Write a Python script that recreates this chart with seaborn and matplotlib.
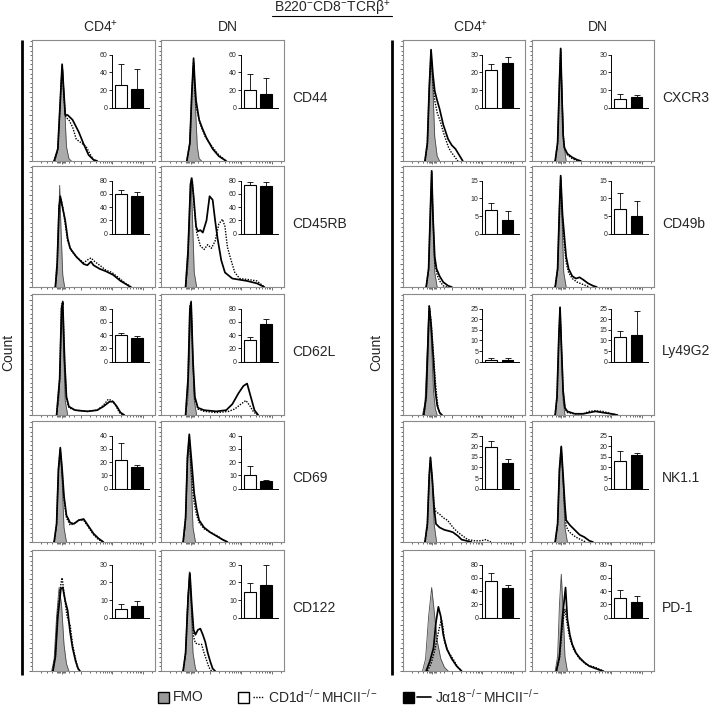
import matplotlib
matplotlib.use("Agg")
import matplotlib.pyplot as plt
from matplotlib.ticker import FixedLocator, NullFormatter
import numpy as np
import seaborn as sns

# ---- histogram traces: (position across axis, height as fraction of panel) ----
cd44_cd4_fmo = [(0.19, 0), (0.21, 0.08), (0.225, 0.35), (0.24, 0.72), (0.25, 0.76), (0.265, 0.45), (0.28, 0.12), (0.30, 0.02), (0.32, 0)]
cd44_cd4_cd1d = [(0.18, 0), (0.21, 0.10), (0.23, 0.50), (0.245, 0.78), (0.26, 0.52), (0.275, 0.36), (0.30, 0.34), (0.33, 0.28), (0.36, 0.18), (0.40, 0.15), (0.44, 0.12), (0.47, 0.06), (0.50, 0.01), (0.53, 0)]
cd44_cd4_ja18 = [(0.18, 0), (0.21, 0.10), (0.23, 0.50), (0.245, 0.80), (0.26, 0.55), (0.27, 0.38), (0.29, 0.38), (0.33, 0.34), (0.38, 0.24), (0.42, 0.14), (0.46, 0.05), (0.50, 0.01), (0.53, 0)]
cd44_dn_fmo = [(0.21, 0), (0.23, 0.10), (0.245, 0.40), (0.26, 0.78), (0.27, 0.80), (0.28, 0.45), (0.295, 0.12), (0.31, 0.02), (0.33, 0)]
cd44_dn_cd1d = [(0.21, 0), (0.235, 0.15), (0.25, 0.55), (0.265, 0.82), (0.275, 0.58), (0.285, 0.45), (0.32, 0.30), (0.36, 0.20), (0.40, 0.14), (0.43, 0.10), (0.47, 0.05), (0.53, 0)]
cd44_dn_ja18 = [(0.21, 0), (0.235, 0.15), (0.25, 0.55), (0.265, 0.85), (0.275, 0.65), (0.285, 0.50), (0.31, 0.34), (0.34, 0.26), (0.37, 0.19), (0.42, 0.10), (0.47, 0.04), (0.53, 0)]

cd45rb_cd4_fmo = [(0.19, 0), (0.205, 0.10), (0.215, 0.50), (0.225, 0.84), (0.235, 0.50), (0.25, 0.10), (0.265, 0)]
cd45rb_cd4_cd1d = [(0.19, 0), (0.205, 0.20), (0.22, 0.68), (0.235, 0.73), (0.25, 0.66), (0.27, 0.52), (0.29, 0.38), (0.32, 0.30), (0.37, 0.24), (0.42, 0.20), (0.46, 0.23), (0.48, 0.24), (0.51, 0.21), (0.55, 0.18), (0.60, 0.14), (0.65, 0.12), (0.70, 0.08), (0.76, 0.03), (0.81, 0)]
cd45rb_cd4_ja18 = [(0.19, 0), (0.205, 0.20), (0.22, 0.65), (0.23, 0.75), (0.25, 0.65), (0.27, 0.55), (0.29, 0.40), (0.31, 0.32), (0.36, 0.25), (0.42, 0.19), (0.45, 0.18), (0.48, 0.21), (0.50, 0.18), (0.55, 0.15), (0.60, 0.13), (0.66, 0.10), (0.72, 0.05), (0.77, 0.02), (0.80, 0)]
cd45rb_dn_fmo = [(0.20, 0), (0.22, 0.15), (0.235, 0.70), (0.245, 0.90), (0.255, 0.60), (0.27, 0.12), (0.29, 0)]
cd45rb_dn_cd1d = [(0.20, 0), (0.22, 0.30), (0.24, 0.85), (0.255, 0.88), (0.27, 0.65), (0.29, 0.45), (0.32, 0.34), (0.35, 0.31), (0.38, 0.35), (0.41, 0.32), (0.44, 0.38), (0.47, 0.52), (0.50, 0.56), (0.52, 0.50), (0.54, 0.33), (0.57, 0.22), (0.60, 0.12), (0.64, 0.07), (0.72, 0.06), (0.78, 0.05), (0.84, 0)]
cd45rb_dn_ja18 = [(0.20, 0), (0.22, 0.30), (0.24, 0.85), (0.25, 0.90), (0.265, 0.75), (0.285, 0.50), (0.30, 0.46), (0.32, 0.47), (0.34, 0.45), (0.37, 0.55), (0.395, 0.75), (0.42, 0.72), (0.44, 0.55), (0.46, 0.40), (0.49, 0.22), (0.52, 0.12), (0.58, 0.07), (0.70, 0.05), (0.78, 0.03), (0.84, 0)]

cd62l_cd4_fmo = [(0.20, 0), (0.22, 0.12), (0.235, 0.60), (0.245, 0.92), (0.255, 0.60), (0.27, 0.12), (0.29, 0)]
cd62l_cd4_cd1d = [(0.20, 0), (0.225, 0.30), (0.24, 0.90), (0.25, 0.94), (0.265, 0.45), (0.28, 0.14), (0.30, 0.06), (0.35, 0.04), (0.45, 0.03), (0.53, 0.04), (0.58, 0.08), (0.62, 0.13), (0.65, 0.12), (0.68, 0.08), (0.71, 0.02), (0.74, 0)]
cd62l_cd4_ja18 = [(0.20, 0), (0.225, 0.30), (0.24, 0.88), (0.25, 0.93), (0.265, 0.45), (0.28, 0.15), (0.30, 0.07), (0.35, 0.04), (0.45, 0.03), (0.53, 0.04), (0.58, 0.07), (0.63, 0.11), (0.66, 0.11), (0.69, 0.07), (0.72, 0.02), (0.75, 0)]
cd62l_dn_fmo = [(0.20, 0), (0.22, 0.12), (0.235, 0.60), (0.245, 0.92), (0.255, 0.60), (0.27, 0.12), (0.29, 0)]
cd62l_dn_cd1d = [(0.20, 0), (0.22, 0.30), (0.235, 0.90), (0.245, 0.94), (0.26, 0.42), (0.275, 0.13), (0.30, 0.05), (0.35, 0.03), (0.45, 0.02), (0.55, 0.03), (0.60, 0.05), (0.65, 0.09), (0.69, 0.12), (0.72, 0.08), (0.75, 0.03), (0.78, 0)]
cd62l_dn_ja18 = [(0.20, 0), (0.22, 0.30), (0.235, 0.88), (0.245, 0.93), (0.26, 0.45), (0.275, 0.15), (0.30, 0.06), (0.35, 0.04), (0.45, 0.03), (0.53, 0.04), (0.58, 0.09), (0.63, 0.18), (0.67, 0.24), (0.70, 0.26), (0.73, 0.15), (0.76, 0.04), (0.79, 0)]

cd69_cd4_fmo = [(0.18, 0), (0.20, 0.12), (0.215, 0.55), (0.23, 0.76), (0.245, 0.50), (0.26, 0.12), (0.28, 0)]
cd69_cd4_cd1d = [(0.18, 0), (0.20, 0.15), (0.215, 0.60), (0.23, 0.77), (0.245, 0.58), (0.26, 0.35), (0.28, 0.20), (0.31, 0.14), (0.34, 0.15), (0.38, 0.18), (0.42, 0.18), (0.46, 0.12), (0.50, 0.06), (0.54, 0.02), (0.58, 0)]
cd69_cd4_ja18 = [(0.18, 0), (0.20, 0.15), (0.215, 0.60), (0.23, 0.78), (0.245, 0.60), (0.26, 0.38), (0.28, 0.22), (0.31, 0.16), (0.34, 0.15), (0.38, 0.18), (0.42, 0.19), (0.46, 0.13), (0.50, 0.07), (0.54, 0.03), (0.58, 0)]
cd69_dn_fmo = [(0.18, 0), (0.20, 0.12), (0.215, 0.60), (0.23, 0.88), (0.245, 0.55), (0.26, 0.12), (0.28, 0)]
cd69_dn_cd1d = [(0.18, 0), (0.20, 0.20), (0.215, 0.70), (0.23, 0.87), (0.245, 0.60), (0.265, 0.35), (0.29, 0.22), (0.31, 0.16), (0.35, 0.11), (0.40, 0.08), (0.46, 0.05), (0.50, 0.02), (0.54, 0)]
cd69_dn_ja18 = [(0.18, 0), (0.20, 0.20), (0.215, 0.70), (0.23, 0.89), (0.25, 0.65), (0.27, 0.40), (0.29, 0.27), (0.31, 0.18), (0.35, 0.12), (0.40, 0.08), (0.45, 0.05), (0.50, 0.02), (0.54, 0)]

cd122_cd4_fmo = [(0.16, 0), (0.18, 0.10), (0.20, 0.45), (0.22, 0.69), (0.24, 0.55), (0.26, 0.22), (0.28, 0.06), (0.30, 0)]
cd122_cd4_cd1d = [(0.17, 0), (0.19, 0.12), (0.21, 0.50), (0.235, 0.72), (0.245, 0.77), (0.26, 0.65), (0.285, 0.45), (0.31, 0.38), (0.33, 0.22), (0.35, 0.12), (0.37, 0.03), (0.385, 0)]
cd122_cd4_ja18 = [(0.17, 0), (0.19, 0.12), (0.21, 0.45), (0.235, 0.68), (0.25, 0.69), (0.27, 0.58), (0.29, 0.50), (0.31, 0.32), (0.33, 0.19), (0.355, 0.08), (0.375, 0.02), (0.39, 0)]
cd122_dn_fmo = [(0.18, 0), (0.20, 0.12), (0.215, 0.55), (0.23, 0.82), (0.245, 0.55), (0.26, 0.15), (0.28, 0.02), (0.29, 0)]
cd122_dn_cd1d = [(0.18, 0), (0.20, 0.15), (0.22, 0.60), (0.235, 0.80), (0.25, 0.50), (0.265, 0.28), (0.28, 0.23), (0.31, 0.22), (0.33, 0.22), (0.35, 0.15), (0.37, 0.09), (0.39, 0.03), (0.41, 0)]
cd122_dn_ja18 = [(0.18, 0), (0.20, 0.15), (0.22, 0.60), (0.235, 0.81), (0.25, 0.55), (0.265, 0.34), (0.28, 0.30), (0.30, 0.34), (0.32, 0.35), (0.34, 0.30), (0.36, 0.24), (0.38, 0.15), (0.40, 0.08), (0.42, 0.02), (0.44, 0)]

cxcr3_cd4_fmo = [(0.18, 0), (0.20, 0.12), (0.215, 0.55), (0.23, 0.92), (0.245, 0.60), (0.26, 0.20), (0.28, 0.04), (0.30, 0)]
cxcr3_cd4_cd1d = [(0.18, 0), (0.20, 0.15), (0.215, 0.60), (0.23, 0.90), (0.245, 0.65), (0.26, 0.50), (0.28, 0.40), (0.305, 0.33), (0.33, 0.24), (0.35, 0.18), (0.37, 0.12), (0.39, 0.08), (0.42, 0.04), (0.45, 0)]
cxcr3_cd4_ja18 = [(0.18, 0), (0.20, 0.15), (0.215, 0.60), (0.23, 0.92), (0.245, 0.72), (0.26, 0.58), (0.28, 0.50), (0.30, 0.43), (0.33, 0.30), (0.37, 0.18), (0.40, 0.13), (0.43, 0.10), (0.46, 0.05), (0.49, 0)]
cxcr3_dn_fmo = [(0.19, 0), (0.21, 0.12), (0.225, 0.60), (0.235, 0.93), (0.245, 0.60), (0.26, 0.15), (0.28, 0)]
cxcr3_dn_cd1d = [(0.19, 0), (0.21, 0.15), (0.225, 0.65), (0.235, 0.92), (0.245, 0.55), (0.255, 0.22), (0.265, 0.12), (0.29, 0.05), (0.33, 0.02), (0.37, 0)]
cxcr3_dn_ja18 = [(0.19, 0), (0.21, 0.15), (0.225, 0.65), (0.235, 0.93), (0.245, 0.55), (0.255, 0.22), (0.265, 0.11), (0.29, 0.06), (0.33, 0.03), (0.37, 0.01), (0.40, 0)]

cd49b_cd4_fmo = [(0.19, 0), (0.21, 0.12), (0.225, 0.60), (0.235, 0.96), (0.245, 0.60), (0.26, 0.12), (0.28, 0)]
cd49b_cd4_cd1d = [(0.19, 0), (0.21, 0.15), (0.225, 0.65), (0.235, 0.95), (0.245, 0.60), (0.26, 0.20), (0.28, 0.10), (0.30, 0.05), (0.33, 0.01), (0.36, 0)]
cd49b_cd4_ja18 = [(0.19, 0), (0.21, 0.15), (0.225, 0.65), (0.235, 0.96), (0.245, 0.60), (0.26, 0.25), (0.275, 0.15), (0.30, 0.09), (0.33, 0.04), (0.37, 0.01), (0.40, 0)]
cd49b_dn_fmo = [(0.19, 0), (0.21, 0.12), (0.225, 0.60), (0.235, 0.92), (0.245, 0.60), (0.26, 0.12), (0.28, 0)]
cd49b_dn_cd1d = [(0.19, 0), (0.21, 0.15), (0.225, 0.65), (0.235, 0.90), (0.25, 0.55), (0.265, 0.35), (0.28, 0.20), (0.30, 0.12), (0.33, 0.07), (0.37, 0.04), (0.42, 0.02), (0.47, 0)]
cd49b_dn_ja18 = [(0.19, 0), (0.21, 0.15), (0.225, 0.65), (0.235, 0.92), (0.25, 0.60), (0.265, 0.42), (0.28, 0.25), (0.30, 0.15), (0.33, 0.09), (0.36, 0.07), (0.39, 0.08), (0.42, 0.06), (0.46, 0.03), (0.50, 0.01), (0.53, 0)]

ly49g2_cd4_fmo = [(0.16, 0), (0.18, 0.10), (0.195, 0.45), (0.21, 0.85), (0.22, 0.88), (0.235, 0.55), (0.25, 0.20), (0.265, 0.05), (0.28, 0)]
ly49g2_cd4_cd1d = [(0.17, 0), (0.19, 0.15), (0.205, 0.60), (0.215, 0.90), (0.23, 0.78), (0.25, 0.50), (0.265, 0.28), (0.28, 0.12), (0.29, 0.05), (0.31, 0)]
ly49g2_cd4_ja18 = [(0.17, 0), (0.19, 0.15), (0.205, 0.60), (0.215, 0.90), (0.23, 0.75), (0.25, 0.45), (0.265, 0.20), (0.28, 0.08), (0.30, 0.02), (0.32, 0)]
ly49g2_dn_fmo = [(0.19, 0), (0.205, 0.12), (0.22, 0.60), (0.23, 0.89), (0.24, 0.60), (0.255, 0.12), (0.27, 0)]
ly49g2_dn_cd1d = [(0.19, 0), (0.205, 0.15), (0.22, 0.65), (0.23, 0.88), (0.24, 0.60), (0.255, 0.20), (0.27, 0.05), (0.29, 0.02), (0.35, 0.01), (0.42, 0.01), (0.47, 0.03), (0.52, 0.035), (0.58, 0.03), (0.65, 0.01), (0.70, 0)]
ly49g2_dn_ja18 = [(0.19, 0), (0.205, 0.15), (0.22, 0.65), (0.23, 0.89), (0.24, 0.60), (0.255, 0.20), (0.27, 0.06), (0.29, 0.03), (0.35, 0.01), (0.42, 0.01), (0.47, 0.02), (0.52, 0.03), (0.58, 0.02), (0.65, 0.01), (0.70, 0)]

nk11_cd4_fmo = [(0.18, 0), (0.20, 0.12), (0.215, 0.50), (0.225, 0.68), (0.24, 0.50), (0.255, 0.15), (0.275, 0)]
nk11_cd4_cd1d = [(0.18, 0), (0.20, 0.15), (0.215, 0.55), (0.225, 0.69), (0.24, 0.52), (0.255, 0.30), (0.27, 0.25), (0.30, 0.23), (0.33, 0.20), (0.365, 0.18), (0.41, 0.12), (0.45, 0.08), (0.49, 0.05), (0.53, 0.02), (0.59, 0.01), (0.64, 0.01), (0.68, 0.02), (0.72, 0)]
nk11_cd4_ja18 = [(0.18, 0), (0.20, 0.15), (0.215, 0.55), (0.225, 0.70), (0.24, 0.52), (0.255, 0.28), (0.27, 0.15), (0.30, 0.12), (0.34, 0.10), (0.38, 0.09), (0.41, 0.08), (0.45, 0.05), (0.48, 0.02), (0.52, 0.01), (0.56, 0)]
nk11_dn_fmo = [(0.19, 0), (0.21, 0.12), (0.225, 0.55), (0.24, 0.78), (0.255, 0.50), (0.27, 0.12), (0.29, 0)]
nk11_dn_cd1d = [(0.19, 0), (0.21, 0.15), (0.225, 0.60), (0.24, 0.78), (0.255, 0.52), (0.27, 0.25), (0.28, 0.13), (0.30, 0.09), (0.32, 0.07), (0.36, 0.04), (0.40, 0.02), (0.44, 0)]
nk11_dn_ja18 = [(0.19, 0), (0.21, 0.15), (0.225, 0.60), (0.24, 0.79), (0.255, 0.55), (0.27, 0.30), (0.28, 0.18), (0.31, 0.14), (0.35, 0.10), (0.39, 0.06), (0.43, 0.04), (0.47, 0.01), (0.50, 0)]

pd1_cd4_fmo = [(0.16, 0), (0.185, 0.10), (0.21, 0.45), (0.235, 0.69), (0.255, 0.50), (0.28, 0.25), (0.31, 0.10), (0.34, 0.03), (0.37, 0)]
pd1_cd4_cd1d = [(0.20, 0), (0.23, 0.06), (0.26, 0.17), (0.29, 0.32), (0.315, 0.43), (0.33, 0.35), (0.34, 0.24), (0.37, 0.16), (0.41, 0.10), (0.45, 0.03), (0.48, 0)]
pd1_cd4_ja18 = [(0.19, 0), (0.22, 0.08), (0.25, 0.19), (0.27, 0.40), (0.29, 0.53), (0.31, 0.45), (0.33, 0.30), (0.36, 0.18), (0.40, 0.10), (0.44, 0.04), (0.48, 0)]
pd1_dn_fmo = [(0.19, 0), (0.21, 0.12), (0.225, 0.55), (0.24, 0.80), (0.255, 0.50), (0.27, 0.12), (0.29, 0)]
pd1_dn_cd1d = [(0.20, 0), (0.225, 0.10), (0.25, 0.38), (0.27, 0.51), (0.29, 0.38), (0.31, 0.27), (0.34, 0.18), (0.39, 0.10), (0.45, 0.05), (0.52, 0.03), (0.56, 0.01), (0.59, 0)]
pd1_dn_ja18 = [(0.20, 0), (0.225, 0.12), (0.25, 0.45), (0.275, 0.69), (0.29, 0.43), (0.31, 0.30), (0.33, 0.22), (0.36, 0.15), (0.39, 0.11), (0.43, 0.07), (0.47, 0.04), (0.55, 0.01), (0.58, 0)]

# ---- inset bar data (% positive, mean and SD) ----
markers = ["CD44", "CD45RB", "CD62L", "CD69", "CD122",
           "CXCR3", "CD49b", "Ly49G2", "NK1.1", "PD-1"]
bar_ymax = [60, 80, 80, 40, 30, 30, 15, 25, 25, 80]
bar_step = [20, 20, 20, 10, 10, 10, 5, 5, 5, 20]
cd1d_cd4_mean = [26, 59, 40, 21.5, 5, 21.5, 6.8, 0.8, 19.5, 55]
cd1d_cd4_sd = [23, 7, 3, 13, 2.5, 3, 1.8, 1.2, 3, 12]
ja18_cd4_mean = [21, 57, 36, 16, 6.5, 25, 3.9, 0.8, 12, 44]
ja18_cd4_sd = [23, 6, 3, 2, 3, 3.5, 2.4, 1.0, 2, 5]
cd1d_dn_mean = [20, 73, 33, 10, 14.5, 5, 7, 11.5, 13, 30]
cd1d_dn_sd = [18, 5, 4, 7, 5, 2.5, 4.5, 3, 4.5, 12]
ja18_dn_mean = [15, 72, 57, 5.5, 18.5, 6, 5, 12.5, 16, 24]
ja18_dn_sd = [18, 6, 8, 1, 11, 1, 4.2, 11.5, 1, 8]

traces = {
    "CD44": [(cd44_cd4_fmo, cd44_cd4_cd1d, cd44_cd4_ja18), (cd44_dn_fmo, cd44_dn_cd1d, cd44_dn_ja18)],
    "CD45RB": [(cd45rb_cd4_fmo, cd45rb_cd4_cd1d, cd45rb_cd4_ja18), (cd45rb_dn_fmo, cd45rb_dn_cd1d, cd45rb_dn_ja18)],
    "CD62L": [(cd62l_cd4_fmo, cd62l_cd4_cd1d, cd62l_cd4_ja18), (cd62l_dn_fmo, cd62l_dn_cd1d, cd62l_dn_ja18)],
    "CD69": [(cd69_cd4_fmo, cd69_cd4_cd1d, cd69_cd4_ja18), (cd69_dn_fmo, cd69_dn_cd1d, cd69_dn_ja18)],
    "CD122": [(cd122_cd4_fmo, cd122_cd4_cd1d, cd122_cd4_ja18), (cd122_dn_fmo, cd122_dn_cd1d, cd122_dn_ja18)],
    "CXCR3": [(cxcr3_cd4_fmo, cxcr3_cd4_cd1d, cxcr3_cd4_ja18), (cxcr3_dn_fmo, cxcr3_dn_cd1d, cxcr3_dn_ja18)],
    "CD49b": [(cd49b_cd4_fmo, cd49b_cd4_cd1d, cd49b_cd4_ja18), (cd49b_dn_fmo, cd49b_dn_cd1d, cd49b_dn_ja18)],
    "Ly49G2": [(ly49g2_cd4_fmo, ly49g2_cd4_cd1d, ly49g2_cd4_ja18), (ly49g2_dn_fmo, ly49g2_dn_cd1d, ly49g2_dn_ja18)],
    "NK1.1": [(nk11_cd4_fmo, nk11_cd4_cd1d, nk11_cd4_ja18), (nk11_dn_fmo, nk11_dn_cd1d, nk11_dn_ja18)],
    "PD-1": [(pd1_cd4_fmo, pd1_cd4_cd1d, pd1_cd4_ja18), (pd1_dn_fmo, pd1_dn_cd1d, pd1_dn_ja18)],
}

# ---- style ----
sns.set_theme(style="white")
plt.rcParams["font.family"] = ["Liberation Sans", "DejaVu Sans"]
plt.rcParams["mathtext.fontset"] = "custom"
plt.rcParams["mathtext.rm"] = "Liberation Sans"
plt.rcParams["mathtext.it"] = "Liberation Sans:italic"
plt.rcParams["mathtext.default"] = "regular"

FMO_GREY = "#ababab"
FRAME = "#8a8a8a"
LABEL_FS = 10

W, H = 709, 706
fig = plt.figure(figsize=(W / 100, H / 100), dpi=100)


def px_axes(x, y, w, h):
    return fig.add_axes([x / W, 1 - (y + h) / H, w / W, h / H])


# flow-style biexponential axis ticks
dec = [(0.40, 0.65), (0.65, 0.90)]
x_minor = [0.07, 0.12, 0.16, 0.20, 0.21, 0.22, 0.23, 0.25, 0.26, 0.27, 0.30, 0.34]
for a, b in dec:
    x_minor += [a + (b - a) * np.log10(k) for k in range(2, 10)]
x_minor += [0.90 + 0.25 * np.log10(2), 0.90 + 0.25 * np.log10(3)]
x_major = [0.24, 0.40, 0.65, 0.90]
y_major = [0.0, 0.19, 0.38, 0.57, 0.76, 0.95]
y_minor = list(np.arange(0, 1.0, 0.038))


def draw_hist(ax, fmo, cd1d, ja18):
    fx = [p[0] for p in fmo]
    fy = [p[1] for p in fmo]
    ax.fill_between(fx, fy, color=FMO_GREY, lw=0, zorder=1)
    sns.lineplot(x=fx, y=fy, ax=ax, color="#4a4a4a", linewidth=0.6,
                 sort=False, estimator=None, zorder=2)
    sns.lineplot(x=[p[0] for p in cd1d], y=[p[1] for p in cd1d], ax=ax,
                 color="black", linewidth=1.0, linestyle=(0, (1, 1)),
                 sort=False, estimator=None, zorder=3)
    sns.lineplot(x=[p[0] for p in ja18], y=[p[1] for p in ja18], ax=ax,
                 color="black", linewidth=1.25, sort=False, estimator=None, zorder=4)
    ax.set_xlim(0, 1)
    ax.set_ylim(0, 1)
    ax.set_xlabel("")
    ax.set_ylabel("")
    for s in ax.spines.values():
        s.set_visible(True)
        s.set_color(FRAME)
        s.set_linewidth(0.8)
    ax.xaxis.set_major_locator(FixedLocator(x_major))
    ax.xaxis.set_minor_locator(FixedLocator(x_minor))
    ax.yaxis.set_major_locator(FixedLocator(y_major))
    ax.yaxis.set_minor_locator(FixedLocator(y_minor))
    ax.xaxis.set_major_formatter(NullFormatter())
    ax.yaxis.set_major_formatter(NullFormatter())
    ax.tick_params(which="both", direction="out", color="#333333", width=0.5,
                   bottom=True, left=True, top=False, right=False)
    ax.tick_params(which="major", length=2.5)
    ax.tick_params(which="minor", length=1.3)


def draw_bars(ax, i, m1, s1, m2, s2):
    sns.barplot(x=["a", "b"], y=[m1, m2], hue=["a", "b"], palette=["white", "black"],
                ax=ax, width=0.72, edgecolor="black", linewidth=0.8,
                errorbar=None, legend=False, zorder=3)
    ax.errorbar([0, 1], [m1, m2], yerr=[[0, 0], [s1, s2]], fmt="none",
                ecolor="black", elinewidth=0.6, capsize=2, capthick=0.6, zorder=2)
    ax.set_xlim(-0.55, 1.7)
    ax.set_ylim(0, bar_ymax[i])
    ax.set_yticks(np.arange(0, bar_ymax[i] + 0.1, bar_step[i]))
    ax.set_xticks([])
    ax.set_xlabel("")
    ax.set_ylabel("")
    ax.patch.set_alpha(0)
    for side in ["top", "right"]:
        ax.spines[side].set_visible(False)
    for side in ["left", "bottom"]:
        ax.spines[side].set_color("black")
        ax.spines[side].set_linewidth(0.7)
    ax.tick_params(axis="y", which="major", direction="out", length=2, width=0.6,
                   color="black", labelsize=5, pad=1, left=True)


row_tops = [40, 166, 294, 421, 550]
row_h = 121
groups = [([32, 161], 123, markers[:5], 292), ([403, 532], 122, markers[5:], 662)]

for gi, (cols, pw, names, label_x) in enumerate(groups):
    for r, name in enumerate(names):
        i = gi * 5 + r
        top = row_tops[r]
        for c, x0 in enumerate(cols):
            ax = px_axes(x0, top, pw, row_h)
            fmo, cd1d, ja18 = traces[name][c]
            draw_hist(ax, fmo, cd1d, ja18)
            inset = px_axes(x0 + 0.65 * pw, top + row_h * 0.12, 0.30 * pw, row_h * 0.44)
            if c == 0:
                draw_bars(inset, i, cd1d_cd4_mean[i], cd1d_cd4_sd[i],
                          ja18_cd4_mean[i], ja18_cd4_sd[i])
            else:
                draw_bars(inset, i, cd1d_dn_mean[i], cd1d_dn_sd[i],
                          ja18_dn_mean[i], ja18_dn_sd[i])

# ---- overlay for labels, brackets and legend (pixel coordinates) ----
ov = fig.add_axes([0, 0, 1, 1], zorder=10)
ov.set_xlim(0, W)
ov.set_ylim(H, 0)
ov.axis("off")

for gi, (cols, pw, names, label_x) in enumerate(groups):
    for r, name in enumerate(names):
        ov.text(label_x, row_tops[r] + row_h / 2 - 3, name, fontsize=LABEL_FS,
                ha="left", va="center")
    ov.text(cols[0] + pw / 2 + 7, 27, r"CD4$^{+}$", fontsize=LABEL_FS, ha="center", va="center")
    ov.text(cols[1] + pw / 2 + 5, 27, "DN", fontsize=LABEL_FS, ha="center", va="center")

ov.plot([22, 22], [40, 675], color="black", lw=2, solid_capstyle="butt")
ov.plot([392, 392], [40, 675], color="black", lw=2, solid_capstyle="butt")
ov.text(8, 352, "Count", rotation=90, fontsize=LABEL_FS, ha="center", va="center")
ov.text(376, 352, "Count", rotation=90, fontsize=LABEL_FS, ha="center", va="center")

ov.text(332, 8, r"B220$^{-}$CD8$^{-}$TCR$\beta^{+}$", fontsize=LABEL_FS, ha="center", va="center")
ov.plot([272, 392], [16, 16], color="black", lw=0.8)

# legend
ly = 697
sq = 11
ov.add_patch(plt.Rectangle((158, ly - sq / 2), sq, sq, facecolor="#999999", edgecolor="black", lw=1))
ov.text(173, ly, "FMO", fontsize=LABEL_FS, ha="left", va="center")
ov.add_patch(plt.Rectangle((238, ly - sq / 2), sq, sq, facecolor="white", edgecolor="black", lw=1))
ov.plot([253, 264], [ly, ly], color="black", lw=1, linestyle=(0, (1, 1)))
ov.text(268, ly, r"CD1d$^{-/-}$MHCII$^{-/-}$", fontsize=LABEL_FS, ha="left", va="center")
ov.add_patch(plt.Rectangle((403, ly - sq / 2), sq, sq, facecolor="black", edgecolor="black", lw=1))
ov.plot([417, 431], [ly, ly], color="black", lw=1.2)
ov.text(435, ly, r"J$\alpha$18$^{-/-}$MHCII$^{-/-}$", fontsize=LABEL_FS, ha="left", va="center")

fig.savefig("out.png", dpi=100)
